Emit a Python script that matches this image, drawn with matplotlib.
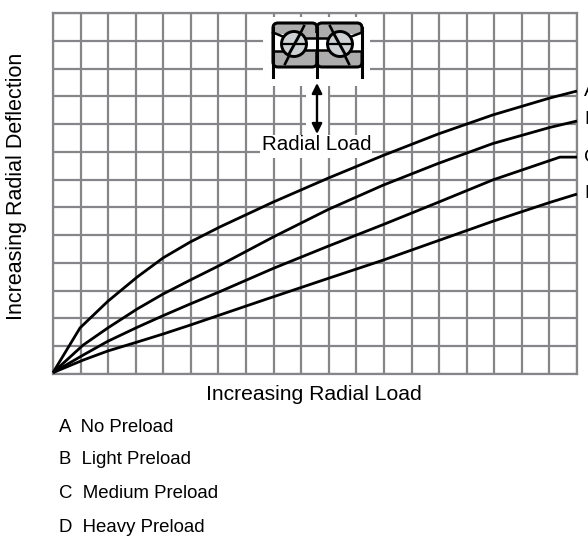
import matplotlib
matplotlib.use('Agg')
import matplotlib.pyplot as plt
from matplotlib.patches import Rectangle, FancyBboxPatch, Circle
import numpy as np

plt.rcParams['font.family'] = ['Liberation Sans', 'DejaVu Sans']

# curves (x and y in grid cells)
a_x = [0, 0.98, 1.99, 3.05, 3.99, 4.97, 6.06, 7.98, 9.97, 11.97, 13.96, 15.95, 18.02, 19]
a_y = [0.05, 1.66, 2.62, 3.49, 4.18, 4.75, 5.3, 6.19, 7.05, 7.87, 8.64, 9.33, 9.94, 10.19]
b_x = [0, 1.09, 1.99, 3.05, 3.99, 4.97, 6.06, 7.98, 9.97, 11.97, 13.96, 15.95, 18.02, 19]
b_y = [0.05, 1.04, 1.66, 2.34, 2.88, 3.38, 3.92, 4.93, 5.92, 6.8, 7.58, 8.3, 8.88, 9.11]
c_x = [0, 1.09, 1.99, 3.05, 3.99, 4.97, 6.06, 7.98, 9.97, 11.97, 13.96, 15.95, 18.38, 19]
c_y = [0.05, 0.68, 1.18, 1.68, 2.1, 2.52, 2.97, 3.8, 4.6, 5.38, 6.18, 6.99, 7.81, 7.81]
d_x = [0, 1.09, 1.99, 3.05, 3.99, 4.97, 7.69, 9.97, 11.97, 13.96, 15.95, 18.02, 19]
d_y = [0.05, 0.5, 0.83, 1.15, 1.44, 1.76, 2.68, 3.44, 4.1, 4.8, 5.5, 6.18, 6.48]

curve_names = ['A', 'B', 'C', 'D']
legend_labels = ['A  No Preload', 'B  Light Preload', 'C  Medium Preload', 'D  Heavy Preload']

W, H = 588, 539
grey = '#86868a'

fig = plt.figure(figsize=(W / 100, H / 100), dpi=100)
ax = fig.add_axes([53 / W, 1 - 374 / H, (577 - 53) / W, (374 - 13) / H])
ax.set_xlim(0, 19)
ax.set_ylim(0, 13)
ax.set_xticks(np.arange(0, 20))
ax.set_yticks(np.arange(0, 14))
ax.grid(True, color=grey, lw=1.6)
ax.tick_params(length=0, labelbottom=False, labelleft=False)
ax.set_axisbelow(True)
for s in ax.spines.values():
    s.set_color(grey)
    s.set_linewidth(1.6)

# overlay in pixel coordinates for the bearing sketch and the text
ov = fig.add_axes([0, 0, 1, 1], facecolor='none')
ov.set_xlim(0, W)
ov.set_ylim(H, 0)
ov.axis('off')

# gaps in the grid behind the sketch
for x0, y0, x1, y1 in [(263, 17, 370, 86), (306, 86, 328, 135), (260, 135, 372, 158)]:
    ov.add_patch(Rectangle((x0, y0), x1 - x0, y1 - y0, fc='white', ec='none', zorder=1))

# curves, scaled from grid cells to the overlay
for xs, ys in [(a_x, a_y), (b_x, b_y), (c_x, c_y), (d_x, d_y)]:
    ov.plot(53 + np.array(xs) * (577 - 53) / 19, 374 - np.array(ys) * (374 - 13) / 13,
            color='black', lw=2.0, solid_joinstyle='round', solid_capstyle='butt', zorder=2)

# bearing sketch
for x0, x1 in [(273, 317), (317, 362)]:
    ov.add_patch(FancyBboxPatch((x0 + 5, 28), x1 - x0 - 10, 34, boxstyle='round,pad=5,rounding_size=5',
                                fc='#adadad', ec='black', lw=2.2, zorder=3))
ov.add_patch(Rectangle((274, 34), 87, 17, fc='white', ec='none', zorder=3))
ov.add_patch(Rectangle((300, 38), 34, 11.5, fc='white', ec='none', zorder=3))
ov.add_patch(Rectangle((300, 33), 34, 5, fc='#adadad', ec='none', zorder=3))
ov.add_patch(Rectangle((300, 49.5), 34, 2, fc='#adadad', ec='none', zorder=3))
ov.plot([273, 284], [32.5, 37], color='black', lw=1.8, zorder=4)
ov.plot([350, 362], [37, 32.5], color='black', lw=1.8, zorder=4)
ov.plot([273, 284], [51, 51], color='black', lw=1.8, zorder=4)
ov.plot([350, 362], [51, 51], color='black', lw=1.8, zorder=4)
ov.plot([303, 332], [38, 38], color='black', lw=1.8, zorder=4)
ov.plot([303, 332], [49.5, 49.5], color='black', lw=1.8, zorder=4)
for x in [272.5, 317, 362]:
    ov.plot([x, x], [28, 77], color='black', lw=2.2, zorder=5)
for cx, s in [(294, 1), (340, -1)]:
    ov.plot([cx + s * 10, cx - s * 9], [26, 64], color='black', lw=1.9, zorder=4)
    ov.add_patch(Circle((cx, 44), 12.5, fc='#ced1d3', ec='black', lw=2.1, zorder=5))
    ov.plot([cx - 10, cx + 10], [44, 44], color='black', lw=1.6, zorder=6)
    ov.plot([cx + s * 5.5, cx - s * 5], [35, 54], color='black', lw=2.1, zorder=6)
ov.annotate('', xy=(317, 83), xytext=(317, 134), zorder=5,
            arrowprops=dict(arrowstyle='<|-|>', color='black', lw=1.7, mutation_scale=15,
                            shrinkA=0, shrinkB=0))

# text
ov.text(317, 145, 'Radial Load', ha='center', va='center', fontsize=14.8, zorder=6)
ov.text(314, 395, 'Increasing Radial Load', ha='center', va='center', fontsize=15.2)
ov.text(17, 186, 'Increasing Radial Deflection', ha='center', va='center', rotation=90, fontsize=15.5)
for name, y in zip(curve_names, [92, 119, 157, 193]):
    ov.text(584, y, name, ha='left', va='center', fontsize=14, clip_on=False)
for lab, y in zip(legend_labels, [428, 460, 494, 527]):
    ov.text(59, y, lab, ha='left', va='center', fontsize=13.4)

fig.savefig('out.png', dpi=100)
